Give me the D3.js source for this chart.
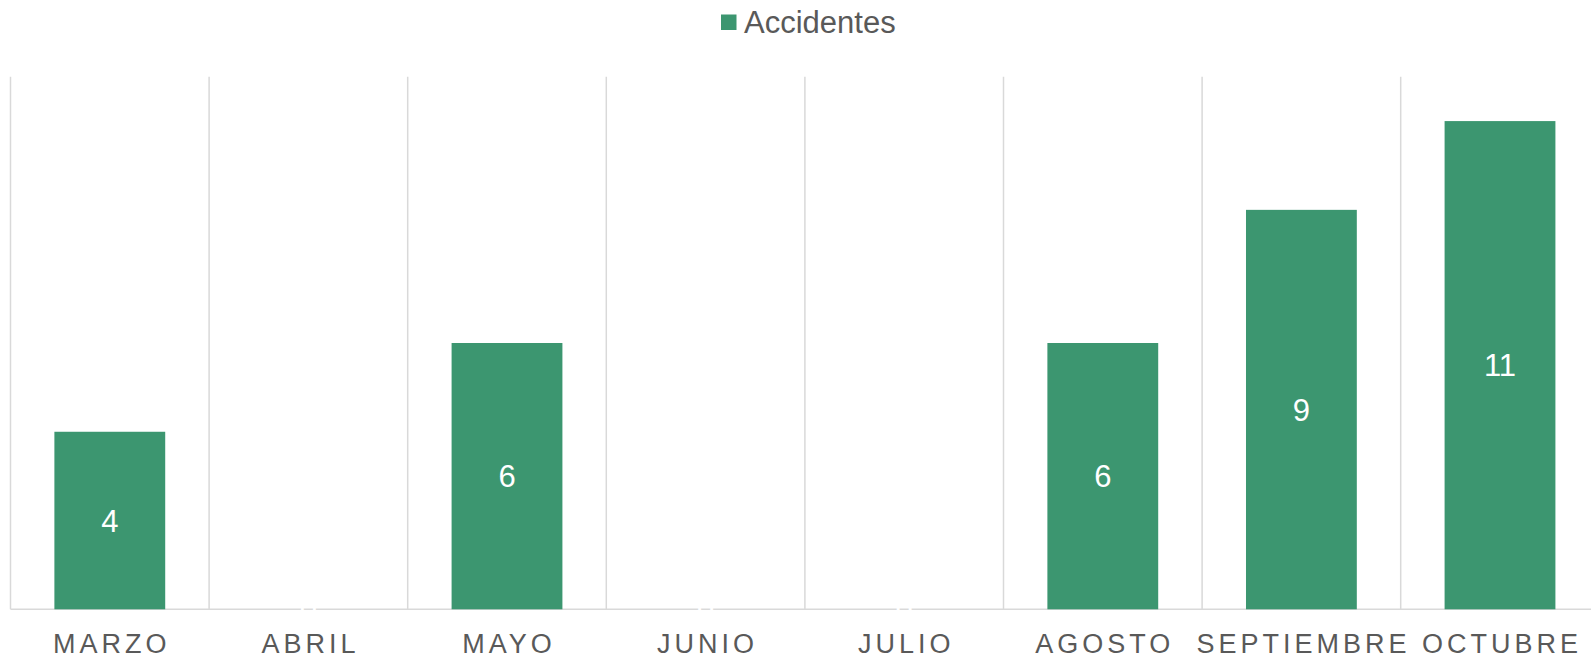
<!DOCTYPE html>
<html>
<head>
    <meta charset="utf-8">
    <title>Accidentes</title>
    <style>
        body { margin: 0; overflow: hidden; background: #fff; }
        svg text { font-family: Arial, "Liberation Sans", sans-serif; }
    </style>
    <script src="https://d3js.org/d3.v7.min.js"></script>
</head>
<body>
<script>
    // data
    const months = ["MARZO", "ABRIL", "MAYO", "JUNIO", "JULIO", "AGOSTO", "SEPTIEMBRE", "OCTUBRE"];
    const accidentes = [4, 0, 6, 0, 0, 6, 9, 11];
    const seriesName = "Accidentes";
    const yMax = 12;

    const width = 1591, height = 659;
    const barColor = "#3c9670";
    const gridColor = "#d9d9d9";
    const textColor = "#595959";

    const svg = d3.select("body").append("svg")
        .attr("width", width)
        .attr("height", height);

    // last band runs past the right edge, as in the original
    const pad = 0.442;
    const x = d3.scaleBand()
        .domain(months)
        .range([10.5, 1599.3])
        .paddingInner(pad)
        .paddingOuter(pad / 2);

    const y = d3.scaleLinear()
        .domain([0, yMax])
        .range([609.3, 76.7]);

    const step = x.step();
    const bandLeft = d => x(d) - step * pad / 2;

    // vertical gridlines between categories
    const grid = svg.append("g");
    grid.selectAll("line")
        .data(months)
        .enter().append("line")
        .attr("x1", d => bandLeft(d))
        .attr("x2", d => bandLeft(d))
        .attr("y1", y(yMax))
        .attr("y2", y(0))
        .attr("stroke", gridColor)
        .attr("stroke-width", 1.5);

    // baseline
    svg.append("line")
        .attr("x1", 10.5)
        .attr("x2", width)
        .attr("y1", y(0))
        .attr("y2", y(0))
        .attr("stroke", gridColor)
        .attr("stroke-width", 1.5);

    const data = months.map((m, i) => ({month: m, value: accidentes[i]}));

    svg.append("g").selectAll("rect")
        .data(data.filter(d => d.value > 0))
        .enter().append("rect")
        .attr("x", d => x(d.month))
        .attr("width", x.bandwidth())
        .attr("y", d => y(d.value))
        .attr("height", d => y(0) - y(d.value))
        .attr("fill", barColor);

    // data labels, centred in each bar (zeros sit on the baseline)
    svg.append("g").selectAll("text")
        .data(data)
        .enter().append("text")
        .attr("x", d => x(d.month) + x.bandwidth() / 2)
        .attr("y", d => (y(d.value) + y(0)) / 2)
        .attr("dy", "0.36em")
        .attr("text-anchor", "middle")
        .attr("fill", "#fff")
        .style("font-size", "31px")
        .text(d => d.value);

    // category labels
    const ls = 4;
    const xAxis = d3.axisBottom(x).tickSize(0).tickPadding(0);
    const axisG = svg.append("g")
        .attr("transform", `translate(0,${y(0)})`)
        .call(xAxis);
    axisG.select(".domain").remove();
    axisG.selectAll("text")
        .attr("y", 44)
        .attr("dy", 0)
        .attr("dx", ls / 2)
        .attr("fill", textColor)
        .style("font-family", 'Arial, "Liberation Sans", sans-serif')
        .style("font-size", "27px")
        .style("letter-spacing", ls + "px");

    // legend
    const legend = svg.append("g");
    legend.append("rect")
        .attr("x", 721)
        .attr("y", 14.5)
        .attr("width", 15.5)
        .attr("height", 15.5)
        .attr("fill", barColor);
    legend.append("text")
        .attr("x", 744)
        .attr("y", 32.5)
        .attr("fill", textColor)
        .style("font-size", "31px")
        .text(seriesName);
</script>
</body>
</html>
